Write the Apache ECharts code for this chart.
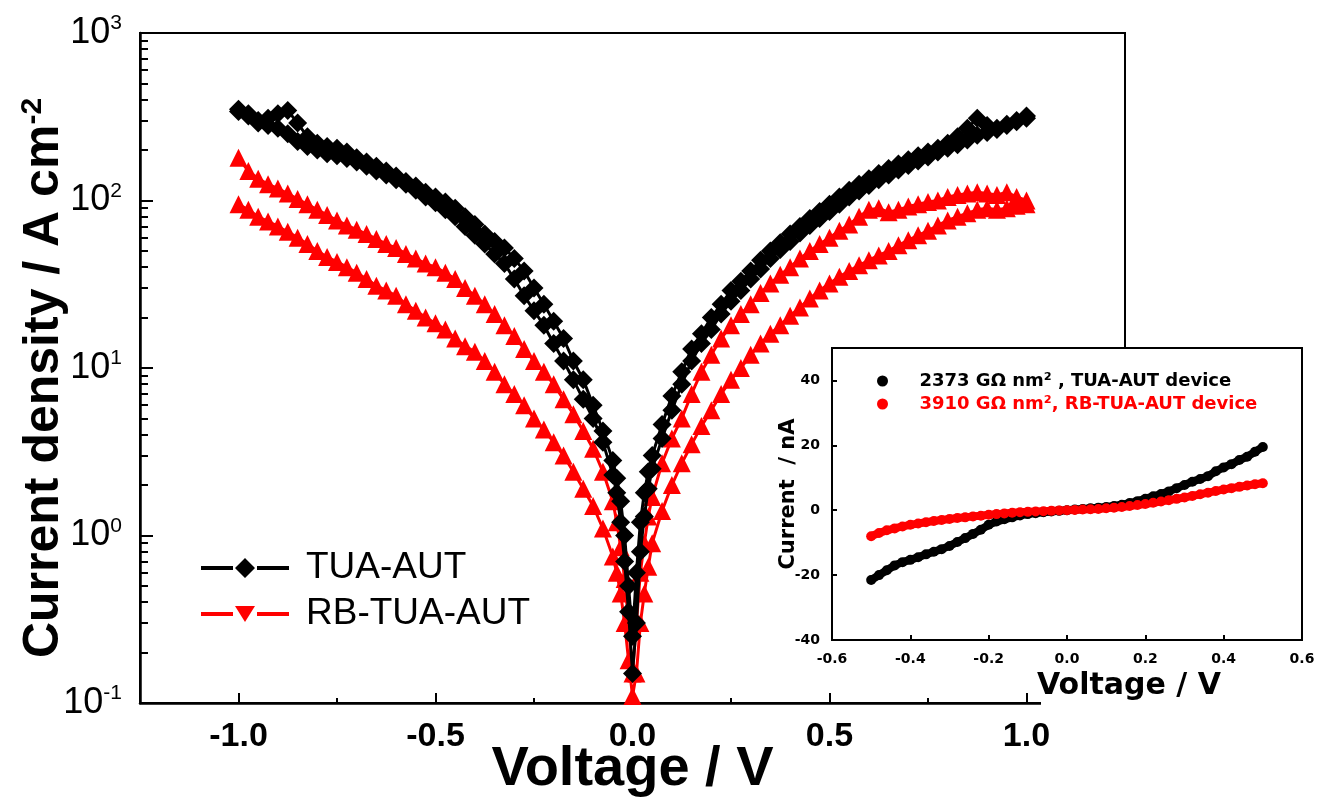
<!DOCTYPE html>
<html>
<head>
<meta charset="utf-8">
<script src="https://cdn.jsdelivr.net/npm/echarts@6/dist/echarts.min.js"></script>
<style>
  html, body { margin: 0; padding: 0; background: #fff; }
  #chart { width: 1318px; height: 802px; }
</style>
</head>
<body>
<div id="chart"></div>
<script>
// voltage grids (V) for the main J-V plot
const vNeg = [-1.0, -0.975, -0.95, -0.925, -0.9, -0.875, -0.85, -0.825, -0.8, -0.775,
  -0.75, -0.725, -0.7, -0.675, -0.65, -0.625, -0.6, -0.575, -0.55, -0.525,
  -0.5, -0.475, -0.45, -0.425, -0.4, -0.375, -0.35, -0.325, -0.3, -0.275,
  -0.25, -0.225, -0.2, -0.175, -0.15, -0.125, -0.1, -0.075, -0.05,
  -0.04, -0.03, -0.02, -0.01, 0];
const vPos = [0.01, 0.02, 0.03, 0.04,
  0.05, 0.075, 0.1, 0.125, 0.15, 0.175, 0.2, 0.225, 0.25, 0.275,
  0.3, 0.325, 0.35, 0.375, 0.4, 0.425, 0.45, 0.475, 0.5, 0.525,
  0.55, 0.575, 0.6, 0.625, 0.65, 0.675, 0.7, 0.725, 0.75, 0.775,
  0.8, 0.825, 0.85, 0.875, 0.9, 0.925, 0.95, 0.975, 1.0];

// TUA-AUT current density (A cm^-2), two sweep branches
const tuaNegA = [340, 320, 300, 310, 330, 345, 290, 240, 220, 210,
  205, 195, 180, 170, 160, 150, 140, 130, 122, 112,
  105, 98, 90, 80, 72, 63, 57, 52, 45, 38,
  30, 24, 19, 15, 11, 8.5, 6, 4.2, 2.8,
  2.2, 1.6, 1.0, 0.5, 0.25];
const tuaNegB = [350, 330, 290, 280, 270, 250, 225, 210, 200, 190,
  185, 178, 170, 160, 150, 142, 133, 125, 115, 105,
  97, 88, 80, 70, 62, 55, 48, 42, 34, 27,
  22, 18, 14, 11, 8.5, 6.5, 5, 3.6, 2.3,
  1.8, 1.2, 0.7, 0.35, 0.15];
const tuaPosA = [0.6, 1.2, 1.8, 2.4,
  3.0, 4.6, 6.8, 9.5, 13, 16, 20, 24, 29, 33,
  38, 44, 50, 56, 63, 70, 78, 86, 95, 105,
  115, 125, 135, 145, 155, 165, 175, 185, 195, 205,
  220, 240, 270, 310, 280, 270, 285, 300, 320];
const tuaPosB = [0.3, 0.8, 1.3, 1.9,
  2.5, 3.8, 5.6, 8, 11, 14, 17, 21, 25, 29,
  34, 39, 45, 51, 57, 64, 71, 78, 86, 95,
  105, 114, 123, 133, 142, 152, 162, 172, 182, 195,
  205, 215, 230, 245, 255, 265, 280, 295, 310];

// RB-TUA-AUT current density (A cm^-2), two sweep branches
const rbNegU = [180, 150, 135, 125, 118, 110, 102, 95, 88, 82,
  76, 71, 67, 63, 59, 55, 52, 48, 45, 42,
  40, 37, 34, 30, 27, 24, 21, 18, 15.5, 13,
  11, 9.5, 8, 6.5, 5.3, 4.2, 3.3, 2.4, 1.6,
  1.2, 0.85, 0.55, 0.3, 0.15];
const rbNegL = [95, 88, 80, 75, 70, 65, 60, 55, 50, 46,
  43, 40, 37, 34, 31, 29, 27, 24, 22, 20,
  18.5, 17, 15, 13.5, 12.5, 11, 9.5, 8, 7, 6,
  5, 4.3, 3.6, 3, 2.4, 1.9, 1.5, 1.1, 0.75,
  0.6, 0.45, 0.3, 0.18, 0.11];
const rbPosU = [0.3, 0.6, 0.9, 1.3,
  1.7, 2.7, 3.8, 5, 7, 9.5, 12, 15, 18, 21,
  24, 28, 32, 36, 40, 45, 50, 55, 60, 66,
  72, 80, 88, 90, 85, 88, 92, 95, 98, 100,
  105, 108, 110, 112, 110, 108, 112, 105, 100];
const rbPosL = [0.15, 0.3, 0.45, 0.65,
  0.9, 1.4, 2.0, 2.7, 3.5, 4.5, 5.6, 7, 8.5, 10,
  12, 14, 16, 18, 20.5, 23, 26, 29, 32, 35,
  38, 41, 44, 47, 50, 54, 58, 62, 66, 71,
  76, 80, 84, 88, 90, 88, 90, 93, 95];

// inset I-V (nA)
const vInset = [-0.5, -0.48, -0.46, -0.44, -0.42, -0.4, -0.38, -0.36, -0.34, -0.32,
  -0.3, -0.28, -0.26, -0.24, -0.22, -0.2, -0.18, -0.16, -0.14, -0.12,
  -0.1, -0.08, -0.06, -0.04, -0.02, 0, 0.02, 0.04, 0.06, 0.08,
  0.1, 0.12, 0.14, 0.16, 0.18, 0.2, 0.22, 0.24, 0.26, 0.28,
  0.3, 0.32, 0.34, 0.36, 0.38, 0.4, 0.42, 0.44, 0.46, 0.48, 0.5];
const iTua = [-21.5, -20, -18.5, -17, -16, -15.3, -14.5, -13.6, -12.8, -12,
  -11, -9.8, -8.6, -7.3, -6, -4.5, -3.5, -2.8, -2.2, -1.6,
  -1.2, -0.9, -0.6, -0.4, -0.2, 0, 0.2, 0.4, 0.6, 0.8,
  1.0, 1.3, 1.7, 2.2, 2.8, 3.5, 4.3, 5.0, 5.8, 6.8,
  7.8, 8.8, 9.6, 10.5, 12, 13.2, 14.2, 15.5, 16.5, 18, 19.5];
const iRb = [-8, -7, -6.2, -5.6, -5, -4.5, -4.1, -3.7, -3.3, -3,
  -2.7, -2.4, -2.2, -1.9, -1.7, -1.4, -1.2, -1.0, -0.8, -0.6,
  -0.5, -0.4, -0.3, -0.2, -0.1, 0, 0.1, 0.2, 0.3, 0.4,
  0.6, 0.8, 1.0, 1.3, 1.6, 1.9, 2.3, 2.7, 3.1, 3.5,
  3.9, 4.4, 4.9, 5.4, 5.9, 6.4, 6.8, 7.2, 7.6, 8.0, 8.3];

const xMajor = [-1.0, -0.5, 0, 0.5, 1.0];
const xMinor = [-0.75, -0.25, 0.25, 0.75];
const yMajor = [0.1, 1, 10, 100, 1000];
const yMinor = [0.2, 0.3, 0.4, 0.5, 0.6, 0.7, 0.8, 0.9,
  2, 3, 4, 5, 6, 7, 8, 9,
  20, 30, 40, 50, 60, 70, 80, 90,
  200, 300, 400, 500, 600, 700, 800, 900];
const insetYTicks = [-40, -20, 0, 20, 40];

const nameTua = 'TUA-AUT';
const nameRb = 'RB-TUA-AUT';
const nameInsetTua = '2373 GΩ nm² , TUA-AUT device';
const nameInsetRb = '3910 GΩ nm², RB-TUA-AUT device';

// -1 -> 0 -> 1 on branch A, then back 1 -> 0 -> -1 on branch B
function sweep(negA, posA, posB, negB) {
  const pts = [];
  vNeg.forEach((v, i) => pts.push([v, negA[i]]));
  vPos.forEach((v, i) => pts.push([v, posA[i]]));
  for (let i = vPos.length - 1; i >= 0; i--) pts.push([vPos[i], posB[i]]);
  for (let i = vNeg.length - 1; i >= 0; i--) pts.push([vNeg[i], negB[i]]);
  return pts;
}

const sans = "'Liberation Sans', Arial, sans-serif";
const dv = "'DejaVu Sans', Verdana, sans-serif";

const chart = echarts.init(document.getElementById('chart'));
chart.setOption({
  animation: false,
  backgroundColor: '#fff',
  grid: [
    { left: 140, right: 193, top: 33, bottom: 99, outerBoundsMode: 'none', show: true, borderColor: '#000', borderWidth: 2, backgroundColor: 'transparent' },
    { left: 832, right: 16, top: 348, bottom: 162, outerBoundsMode: 'none', show: true, borderColor: '#000', borderWidth: 2, backgroundColor: '#fff', z: 5 }
  ],
  graphic: [
    // hide the bits of the main frame that sit behind the inset
    { type: 'rect', left: 1041, top: 696, shape: { width: 95, height: 14 }, style: { fill: '#fff' }, z: 4, silent: true },
    { type: 'rect', left: 1117, top: 641, shape: { width: 16, height: 69 }, style: { fill: '#fff' }, z: 4, silent: true }
  ],
  legend: [
    {
      left: 196, top: 543, orient: 'vertical', selectedMode: false,
      itemWidth: 88, itemHeight: 20, itemGap: 6,
      textStyle: { fontSize: 37, fontFamily: sans, color: '#000', lineHeight: 40, padding: [0, 0, 0, 12] },
      data: [
        { name: nameTua, icon: 'path://M0,8H32V12H0Z M44,0L54,10L44,20L34,10Z M56,8H88V12H56Z' },
        { name: nameRb, icon: 'path://M0,0 M0,8H32V12H0Z M34,2L54,2L44,18Z M56,8H88V12H56Z M88,20' }
      ]
    },
    {
      left: 872, top: 367, orient: 'vertical', selectedMode: false, z: 10,
      itemWidth: 64, itemHeight: 11, itemGap: 5, icon: 'circle',
      textStyle: { fontSize: 18, fontWeight: 'bold', fontFamily: dv },
      data: [
        { name: nameInsetTua, textStyle: { color: '#000' } },
        { name: nameInsetRb, textStyle: { color: '#ff0000' } }
      ]
    }
  ],
  xAxis: [
    {
      type: 'value', gridIndex: 0, min: -1.25, max: 1.25,
      axisLine: { onZero: false, lineStyle: { color: '#000', width: 2.5 } },
      axisTick: { inside: true, length: 10, customValues: xMajor, lineStyle: { color: '#000', width: 2 } },
      axisLabel: {
        customValues: xMajor, formatter: v => v.toFixed(1), margin: 17,
        fontSize: 34, fontWeight: 'bold', fontFamily: sans, color: '#000'
      },
      splitLine: { show: false },
      name: 'Voltage / V', nameLocation: 'middle', nameGap: 38, nameMoveOverlap: false,
      nameTextStyle: { fontSize: 56, fontWeight: 'bold', fontFamily: sans, color: '#000', lineHeight: 58 }
    },
    {
      type: 'value', gridIndex: 0, min: -1.25, max: 1.25, position: 'bottom',
      axisLine: { show: false, onZero: false },
      axisTick: { inside: true, length: 5, customValues: xMinor, lineStyle: { color: '#000', width: 2 } },
      axisLabel: { show: false },
      splitLine: { show: false }
    },
    {
      type: 'value', gridIndex: 1, min: -0.6, max: 0.6, interval: 0.2, z: 6,
      axisLine: { onZero: false, lineStyle: { color: '#000', width: 2 } },
      axisTick: { inside: true, length: 5, lineStyle: { color: '#000', width: 2 } },
      axisLabel: { formatter: v => v.toFixed(1), margin: 12, fontSize: 14, fontWeight: 'bold', fontFamily: dv, color: '#000' },
      splitLine: { show: false },
      name: 'Voltage / V', nameLocation: 'middle', nameGap: 31, nameMoveOverlap: false,
      nameTextStyle: { fontSize: 30, fontWeight: 'bold', fontFamily: dv, color: '#000', padding: [0, 0, 0, 124] }
    }
  ],
  yAxis: [
    {
      type: 'log', logBase: 10, gridIndex: 0, min: 0.1, max: 1000,
      axisLine: { onZero: false, lineStyle: { color: '#000', width: 2.5 } },
      axisTick: { inside: true, length: 13, customValues: yMajor, lineStyle: { color: '#000', width: 2 } },
      axisLabel: {
        customValues: yMajor, margin: 18,
        formatter: v => '{a|10}{b|' + Math.round(Math.log10(v)) + '}',
        rich: {
          a: { fontSize: 36, fontFamily: sans, color: '#000', lineHeight: 40 },
          b: { fontSize: 21, fontFamily: sans, color: '#000', lineHeight: 12, verticalAlign: 'top' }
        }
      },
      splitLine: { show: false },
      name: 'Current density / A cm{s|-2}', nameLocation: 'middle', nameGap: 70, nameMoveOverlap: false,
      nameTextStyle: {
        fontSize: 50, fontWeight: 'bold', fontFamily: sans, color: '#000', lineHeight: 52,
        padding: [0, 20, 0, 0],
        rich: { s: { fontSize: 30, fontWeight: 'bold', fontFamily: sans, color: '#000', lineHeight: 16, verticalAlign: 'top' } }
      }
    },
    {
      type: 'log', logBase: 10, gridIndex: 0, min: 0.1, max: 1000, position: 'left',
      axisLine: { show: false, onZero: false },
      axisTick: { inside: true, length: 8, customValues: yMinor, lineStyle: { color: '#000', width: 2 } },
      axisLabel: { show: false },
      splitLine: { show: false }
    },
    {
      type: 'value', gridIndex: 1, min: -40, max: 50, z: 6,
      axisLine: { onZero: false, lineStyle: { color: '#000', width: 2 } },
      axisTick: { inside: true, length: 5, customValues: insetYTicks, lineStyle: { color: '#000', width: 2 } },
      axisLabel: { customValues: insetYTicks, margin: 12, fontSize: 14, fontWeight: 'bold', fontFamily: dv, color: '#000' },
      splitLine: { show: false },
      name: 'Current  / nA', nameLocation: 'middle', nameGap: 33, nameMoveOverlap: false,
      nameTextStyle: { fontSize: 21, fontWeight: 'bold', fontFamily: dv, color: '#000' }
    }
  ],
  series: [
    {
      name: nameRb, type: 'line', xAxisIndex: 0, yAxisIndex: 0, z: 2,
      data: sweep(rbNegU, rbPosU, rbPosL, rbNegL),
      symbol: 'triangle', symbolSize: 18,
      itemStyle: { color: '#ff0000' }, lineStyle: { color: '#ff0000', width: 3 }
    },
    {
      name: nameTua, type: 'line', xAxisIndex: 0, yAxisIndex: 0, z: 3,
      data: sweep(tuaNegA, tuaPosA, tuaPosB, tuaNegB),
      symbol: 'diamond', symbolSize: 19,
      itemStyle: { color: '#000' }, lineStyle: { color: '#000', width: 3 }
    },
    {
      name: nameInsetTua, type: 'line', xAxisIndex: 2, yAxisIndex: 2, z: 7,
      data: vInset.map((v, i) => [v, iTua[i]]),
      symbol: 'circle', symbolSize: 10,
      itemStyle: { color: '#000' }, lineStyle: { color: '#000', width: 8 }
    },
    {
      name: nameInsetRb, type: 'line', xAxisIndex: 2, yAxisIndex: 2, z: 7,
      data: vInset.map((v, i) => [v, iRb[i]]),
      symbol: 'circle', symbolSize: 10,
      itemStyle: { color: '#ff0000' }, lineStyle: { color: '#ff0000', width: 8 }
    }
  ]
});
</script>
</body>
</html>
